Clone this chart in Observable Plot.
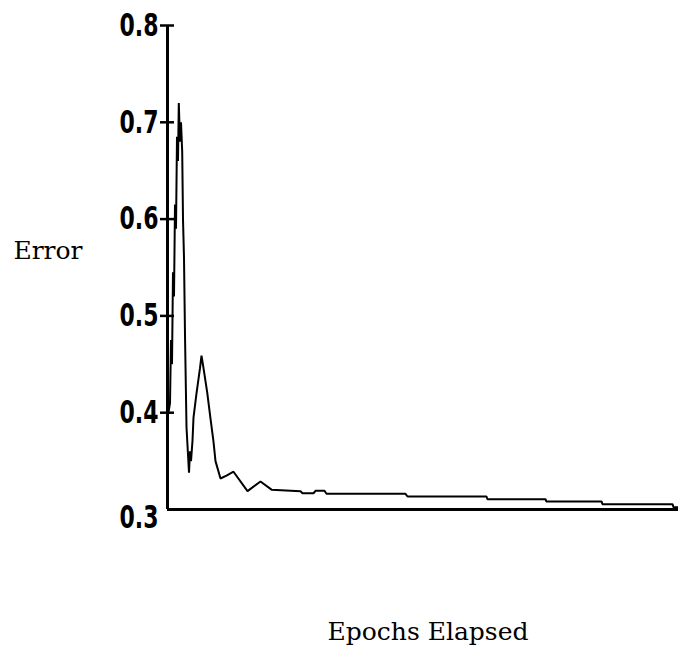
<!DOCTYPE html>
<html>
<head>
<meta charset="utf-8">
<script src="https://cdn.jsdelivr.net/npm/d3@7"></script>
<script src="https://cdn.jsdelivr.net/npm/@observablehq/plot@0.6"></script>
<style>
  html, body { margin: 0; padding: 0; background: #fff; }
  #chart svg { display: block; background: #fff; }
</style>
</head>
<body>
<div id="chart"></div>
<script>
// Epoch index and training error
const epochs = [1, 2.5, 3.5, 4.5, 5.5, 6.5, 7.5, 8.5, 9.5, 10.5, 11.3, 12.5, 13.5, 14.7, 15.5, 16.5, 17.5, 19, 21.5, 22.5, 23.5, 25, 26, 29, 32.5, 34, 36, 39.7, 43, 46, 48, 53, 59, 66, 80, 93, 104, 133, 135, 146, 148, 157, 159, 238, 240, 319, 320, 378, 379, 434, 435, 505, 506, 511];
const errorVals = [0.400, 0.410, 0.475, 0.450, 0.545, 0.520, 0.615, 0.590, 0.685, 0.660, 0.720, 0.680, 0.700, 0.670, 0.600, 0.560, 0.480, 0.385, 0.338, 0.360, 0.350, 0.371, 0.395, 0.420, 0.446, 0.459, 0.446, 0.421, 0.394, 0.370, 0.350, 0.332, 0.335, 0.339, 0.319, 0.329, 0.3205, 0.3189, 0.3168, 0.3168, 0.3193, 0.3193, 0.3162, 0.3162, 0.3134, 0.3134, 0.3106, 0.3106, 0.3083, 0.3083, 0.3055, 0.3055, 0.3024, 0.3024];
const yTicks = [0.4, 0.5, 0.6, 0.7, 0.8];
const yTickBottom = [0.3];
const yLabel = "Error";
const xLabel = "Epochs Elapsed";

const data = epochs.map((e, i) => ({epoch: e, error: errorVals[i]}));
const tickFont = "'DejaVu Sans', sans-serif";
const labelFont = "'DejaVu Serif', serif";
const fmt = d3.format(".1f");

const chart = Plot.plot({
  width: 678,
  height: 653,
  marginLeft: 167,
  marginRight: 0,
  marginTop: 25,
  marginBottom: 144,
  style: {background: "#fff", color: "#000"},
  x: {domain: [0, 511], axis: null},
  y: {domain: [0.3, 0.8], axis: null},
  marks: [
    Plot.ruleY(yTicks, {x1: 0, x2: 0, insetLeft: -7, insetRight: -7, stroke: "#000", strokeWidth: 2.5}),
    Plot.axisY(yTicks, {anchor: "left", tickSize: 0, tickPadding: 9, tickFormat: fmt, fontSize: 32, fontFamily: tickFont, fontWeight: "bold", label: null}),
    Plot.axisY(yTickBottom, {anchor: "left", tickSize: 0, tickPadding: 9, dy: 8, tickFormat: fmt, fontSize: 32, fontFamily: tickFont, fontWeight: "bold", label: null}),
    Plot.ruleX([0], {stroke: "#000", strokeWidth: 3}),
    Plot.ruleY([0.3], {stroke: "#000", strokeWidth: 3}),
    Plot.line(data, {x: "epoch", y: "error", stroke: "#000", strokeWidth: 2, strokeLinejoin: "miter"}),
    Plot.text([yLabel], {frameAnchor: "left", textAnchor: "middle", dx: -119.5, dy: -17, fontSize: 25, fontFamily: labelFont, fill: "#000"}),
    Plot.text([xLabel], {frameAnchor: "bottom", lineAnchor: "middle", textAnchor: "middle", dx: 5, dy: 122, fontSize: 25, fontFamily: labelFont, fill: "#000"})
  ]
});
// condense the tick labels like the reference's narrow face
chart.querySelectorAll('[aria-label="y-axis tick label"] text').forEach(t => {
  t.setAttribute("textLength", 39);
  t.setAttribute("lengthAdjust", "spacingAndGlyphs");
});
document.getElementById("chart").appendChild(chart);
</script>
</body>
</html>
